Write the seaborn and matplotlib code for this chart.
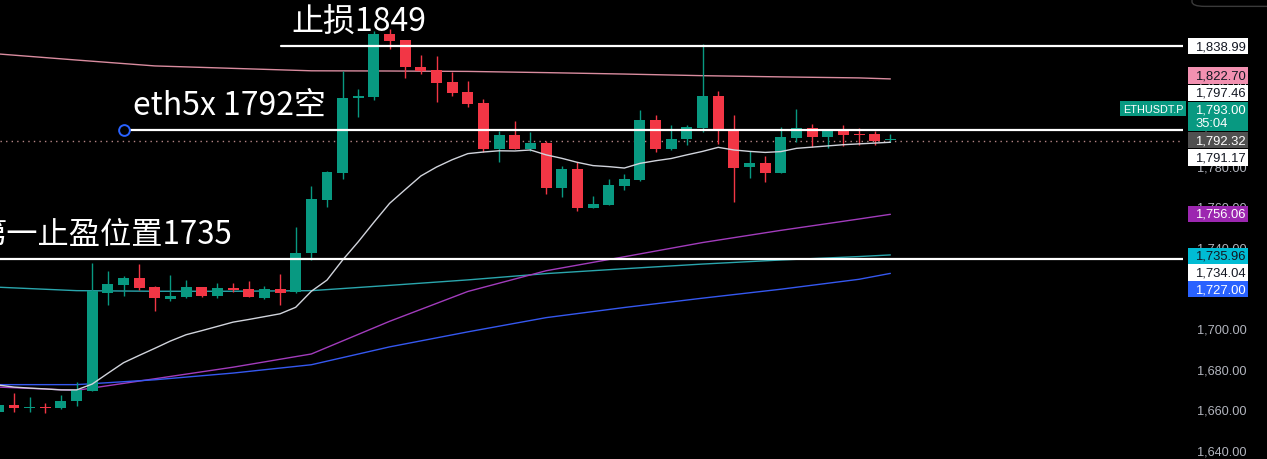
import numpy as np
import matplotlib
matplotlib.use("Agg")
import matplotlib.pyplot as plt
import matplotlib.transforms as mtransforms
from matplotlib.patches import Rectangle, FancyBboxPatch
import seaborn as sns

# --- candles (ETHUSDT.P) ---
opens  = [1658.6, 1662.3, 1660.4, 1661.0, 1660.6, 1664.0, 1669.1, 1717.2, 1721.3, 1724.6,
          1720.0, 1714.4, 1715.4, 1720.0, 1715.8, 1719.9, 1719.2, 1714.9, 1719.2, 1717.6,
          1736.8, 1763.2, 1776.4, 1813.5, 1813.6, 1844.8, 1841.9, 1828.7, 1827.1, 1821.0,
          1816.1, 1810.8, 1788.2, 1795.1, 1788.2, 1791.1, 1769.0, 1778.3, 1759.1, 1760.7,
          1770.1, 1772.9, 1802.5, 1788.2, 1793.0, 1798.5, 1814.4, 1797.2, 1779.5, 1781.3,
          1776.5, 1793.6, 1798.5, 1794.2, 1796.9, 1795.6, 1795.6, 1792.6]
highs  = [1662.1, 1668.0, 1666.0, 1663.2, 1667.0, 1673.3, 1732.0, 1728.2, 1725.5, 1731.5,
          1720.8, 1726.1, 1723.6, 1720.3, 1722.2, 1722.0, 1723.3, 1720.5, 1726.6, 1749.9,
          1769.8, 1777.5, 1826.7, 1817.7, 1846.5, 1847.3, 1841.9, 1834.6, 1833.8, 1826.3,
          1821.5, 1812.8, 1797.2, 1802.1, 1796.7, 1792.3, 1779.9, 1781.6, 1765.2, 1773.4,
          1775.9, 1807.4, 1804.9, 1800.0, 1800.0, 1839.9, 1816.9, 1804.9, 1787.0, 1784.9,
          1798.9, 1807.9, 1800.5, 1796.9, 1800.0, 1798.4, 1796.9, 1795.6]
lows   = [1658.6, 1658.6, 1658.6, 1658.0, 1660.0, 1661.8, 1669.1, 1711.5, 1715.9, 1718.7,
          1708.5, 1713.4, 1714.6, 1715.4, 1714.9, 1717.7, 1715.1, 1714.3, 1711.5, 1717.0,
          1733.5, 1759.5, 1773.4, 1804.1, 1812.3, 1837.4, 1823.0, 1825.1, 1811.2, 1814.4,
          1808.7, 1786.6, 1781.9, 1788.2, 1787.3, 1766.0, 1764.4, 1757.5, 1759.1, 1760.7,
          1768.0, 1772.6, 1786.6, 1787.7, 1790.3, 1796.4, 1790.6, 1762.2, 1773.7, 1772.1,
          1776.5, 1791.8, 1789.0, 1788.5, 1789.8, 1790.1, 1790.1, 1791.5]
closes = [1662.1, 1660.4, 1661.2, 1660.6, 1664.2, 1669.3, 1718.4, 1721.7, 1724.6, 1719.7,
          1714.6, 1715.8, 1720.0, 1715.8, 1719.6, 1718.9, 1715.1, 1719.2, 1717.4, 1736.8,
          1763.5, 1777.0, 1813.3, 1813.8, 1844.8, 1841.5, 1828.4, 1826.7, 1820.7, 1815.8,
          1810.3, 1788.2, 1795.1, 1788.2, 1791.0, 1769.0, 1778.3, 1759.1, 1761.1, 1770.4,
          1773.4, 1802.5, 1788.2, 1793.0, 1799.2, 1814.4, 1796.9, 1778.8, 1781.3, 1776.5,
          1794.2, 1798.5, 1794.2, 1796.9, 1795.1, 1795.1, 1792.3, 1793.0]

# fast moving average (white), one value per candle
ma_fast = [1671.9, 1670.9, 1670.4, 1670.0, 1669.5, 1669.5, 1672.4, 1677.7, 1682.9, 1686.5,
           1690.0, 1693.6, 1696.7, 1698.7, 1700.8, 1702.9, 1704.2, 1705.6, 1707.0, 1710.2,
           1718.1, 1723.6, 1733.5, 1742.5, 1752.1, 1761.4, 1768.2, 1774.9, 1779.3, 1782.9,
           1785.9, 1786.7, 1787.3, 1787.2, 1787.7, 1785.3, 1783.6, 1781.6, 1780.0, 1779.5,
           1778.8, 1781.1, 1782.4, 1783.5, 1785.3, 1787.0, 1789.0, 1787.7, 1787.0, 1786.5,
           1786.9, 1788.5, 1789.1, 1789.7, 1790.3, 1790.7, 1791.1, 1791.5]

# slow moving averages, read every 5th candle
slow_idx  = [0, 5, 10, 15, 20, 25, 30, 35, 40, 45, 50, 55, 57]
ma_pink   = [1835.0, 1832.0, 1829.1, 1827.9, 1826.7, 1826.6, 1826.4, 1825.8, 1825.1, 1824.3, 1823.7, 1823.2, 1822.7]
ma_cyan   = [1720.1, 1718.4, 1718.1, 1718.1, 1718.4, 1721.0, 1723.7, 1726.8, 1729.2, 1731.5, 1733.5, 1735.2, 1736.0]
ma_purple = [1670.9, 1669.3, 1675.0, 1680.7, 1687.2, 1703.3, 1718.0, 1728.2, 1735.1, 1742.1, 1748.1, 1753.7, 1756.0]
ma_blue   = [1672.1, 1672.1, 1674.5, 1677.8, 1681.9, 1690.7, 1698.1, 1705.1, 1710.1, 1714.7, 1719.1, 1724.0, 1726.9]

# drawn levels
stop_level  = 1838.99
entry_level = 1797.46
tp_level    = 1734.04
ref_level   = 1792.32

price_ticks = [1640, 1660, 1680, 1700, 1720, 1740, 1760, 1780, 1800, 1820, 1840]

# price-scale tags: text, colour, text colour, centre (price units, stacked like TV does)
tag_text  = ["1,838.99", "1,822.70", "1,797.46", "1,793.00\n35:04", "1,792.32",
             "1,791.17", "1,756.06", "1,735.96", "1,734.04", "1,727.00"]
tag_bg    = ["#ffffff", "#f291b1", "#ffffff", "#089981", "#505050",
             "#ffffff", "#9c27b0", "#00bcd4", "#ffffff", "#2962ff"]
tag_fg    = ["#131722", "#131722", "#131722", "#ffffff", "#ffffff",
             "#131722", "#ffffff", "#131722", "#131722", "#ffffff"]
tag_y     = [1838.9, 1824.3, 1815.9, 1804.2, 1792.5, 1784.1, 1756.2, 1735.6, 1727.4, 1719.2]
tag_h     = [8.1, 8.1, 8.1, 14.6, 8.1, 8.1, 8.1, 8.1, 8.1, 8.1]

UP, DOWN = "#089981", "#f23645"

sns.set_theme(style="dark", rc={"axes.facecolor": "black", "figure.facecolor": "black",
                                "savefig.facecolor": "black"})
plt.rcParams["font.family"] = ["Liberation Sans", "DejaVu Sans"]
CJK = ["Noto Sans CJK SC", "DejaVu Sans"]

W, H = 1267, 460
PANE = 1183
fig = plt.figure(figsize=(W / 100, H / 100), dpi=100)
ax = fig.add_axes([0, 0, PANE / W, 1])
ax.set_facecolor("black")

idx = np.arange(len(opens))
o, c = np.array(opens), np.array(closes)
cols = [UP if cc >= oo else DOWN for oo, cc in zip(o, c)]

# slow MAs
sns.lineplot(x=slow_idx, y=ma_pink, ax=ax, color="#d98c9f", lw=1.0, zorder=1)
sns.lineplot(x=slow_idx, y=ma_cyan, ax=ax, color="#2aa6ad", lw=1.0, zorder=1)
sns.lineplot(x=slow_idx, y=ma_purple, ax=ax, color="#a23cbc", lw=1.0, zorder=1)
sns.lineplot(x=slow_idx, y=ma_blue, ax=ax, color="#3558f0", lw=1.0, zorder=1)

# candles
ax.vlines(idx, lows, highs, colors=cols, lw=1.0, zorder=2)
body = np.maximum(np.abs(c - o), 0.6)
ax.bar(idx, body, bottom=np.minimum(o, c), width=0.7, color=cols, lw=0, zorder=3)

sns.lineplot(x=idx, y=ma_fast, ax=ax, color="#d1d4dc", lw=1.0, zorder=4)

# horizontal drawings
ax.axhline(stop_level, xmin=281 / PANE, xmax=1, color="white", lw=1.6, zorder=5)
ax.axhline(entry_level, xmin=130 / PANE, xmax=1, color="white", lw=1.6, zorder=5)
ax.axhline(tp_level, xmin=0, xmax=1, color="white", lw=1.6, zorder=5)
ax.axhline(ref_level, color="#b58585", lw=1.0, ls=(0, (1, 3)), zorder=1)
ax.scatter([8.03], [entry_level], s=60, facecolor="black", edgecolor="#2962ff",
           lw=1.4, zorder=6)

ax.text(18.70, 1846.8, "止损1849", family=CJK, fontsize=23, color="white",
        va="baseline", ha="left", zorder=7)
ax.text(8.60, 1805.7, "eth5x 1792空", family=CJK, fontsize=23, color="white",
        va="baseline", ha="left", zorder=7)
ax.text(-1.45, 1741.9, "第一止盈位置1735", family=CJK, fontsize=22.5, color="white",
        va="baseline", ha="left", zorder=7)

ax.set_xlim(0.105, 75.70)
ax.set_ylim(1635.47, 1862.07)
ax.set_xticks([])
ax.set_yticks(price_ticks)
ax.set_yticklabels([f"{v:,.2f}" for v in price_ticks])
ax.yaxis.tick_right()
ax.tick_params(axis="y", length=0, pad=10, labelsize=9.2, labelcolor="#b2b5be")
ax.grid(False)
for s in ax.spines.values():
    s.set_visible(False)

# price-scale tags
trans = mtransforms.blended_transform_factory(ax.transAxes, ax.transData)
x0 = 1188 / PANE
wdt = 60 / PANE
for t, bg, fg, yc, hh in zip(tag_text, tag_bg, tag_fg, tag_y, tag_h):
    ax.add_patch(Rectangle((x0, yc - hh / 2), wdt, hh, transform=trans, facecolor=bg,
                           edgecolor="none", clip_on=False, zorder=8))
    ax.text(x0 + 7 / PANE, yc, t, transform=trans, color=fg, fontsize=9.4,
            va="center", ha="left", linespacing=1.15, clip_on=False, zorder=9)

# symbol tag left of scale
ax.add_patch(Rectangle((1120 / PANE, 1804.2 + 0.2), 66 / PANE, 7.4, transform=trans,
                       facecolor="#089981", edgecolor="none", clip_on=False, zorder=8))
ax.text(1153 / PANE, 1804.2 + 3.9, "ETHUSDT.P", transform=trans, color="white",
        fontsize=7.8, va="center", ha="center", clip_on=False, zorder=9)

# top-right toolbar outline
fig.patches.append(FancyBboxPatch((1192 / W, 0.984), 0.2, 0.05, boxstyle="round,pad=0,rounding_size=0.01",
                                  transform=fig.transFigure, facecolor="black",
                                  edgecolor="#3a3a3a", lw=1.0))

fig.savefig("out.png", dpi=100, facecolor="black")
